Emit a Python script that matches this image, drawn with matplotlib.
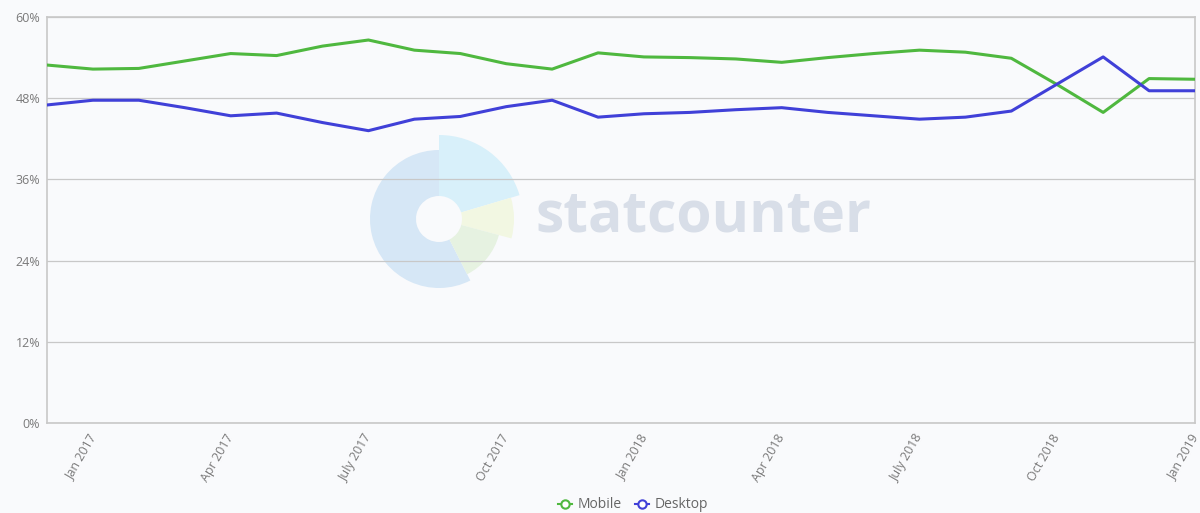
import matplotlib
matplotlib.use("Agg")
import matplotlib.pyplot as plt
from matplotlib.patches import Wedge
from matplotlib.lines import Line2D

months = ["Dec 2016", "Jan 2017", "Feb 2017", "Mar 2017", "Apr 2017", "May 2017", "Jun 2017",
          "Jul 2017", "Aug 2017", "Sep 2017", "Oct 2017", "Nov 2017", "Dec 2017",
          "Jan 2018", "Feb 2018", "Mar 2018", "Apr 2018", "May 2018", "Jun 2018",
          "Jul 2018", "Aug 2018", "Sep 2018", "Oct 2018", "Nov 2018", "Dec 2018", "Jan 2019"]
mobile = [52.9, 52.3, 52.4, 53.5, 54.6, 54.3, 55.7, 56.6, 55.1, 54.6, 53.1, 52.3, 54.7,
          54.1, 54.0, 53.8, 53.3, 54.0, 54.6, 55.1, 54.8, 53.9, 50.0, 45.9, 50.9, 50.8]
desktop = [47.0, 47.7, 47.7, 46.6, 45.4, 45.8, 44.4, 43.2, 44.9, 45.3, 46.75, 47.7, 45.2,
           45.7, 45.9, 46.3, 46.6, 45.9, 45.4, 44.9, 45.2, 46.1, 50.1, 54.1, 49.1, 49.1]
tick_idx = [1, 4, 7, 10, 13, 16, 19, 22, 25]
tick_labels = ["Jan 2017", "Apr 2017", "July 2017", "Oct 2017", "Jan 2018",
               "Apr 2018", "July 2018", "Oct 2018", "Jan 2019"]
yticks = [0, 12, 24, 36, 48, 60]

BG = "#f9fafc"
GREEN = "#4fb83f"
BLUE = "#4040d8"
TXT = "#7a7a7a"

plt.rcParams['font.family'] = ['Open Sans', 'DejaVu Sans']

W, H = 1200, 513
fig = plt.figure(figsize=(W / 100, H / 100), dpi=100, facecolor=BG)

# watermark layer (pixel coordinates, y upward)
wm = fig.add_axes([0, 0, 1, 1], zorder=0)
wm.set_xlim(0, W)
wm.set_ylim(0, H)
wm.axis("off")
cx, cy = 439, H - 219
wm.add_patch(Wedge((cx, cy), 69, 90, 297, width=46, facecolor="#d6e7f6", edgecolor="none"))
wm.add_patch(Wedge((cx, cy), 84, 16.5, 90, width=61, facecolor="#d8f0fa", edgecolor="none"))
wm.add_patch(Wedge((cx, cy), 75, -15, 16.5, width=52, facecolor="#f2f7e2", edgecolor="none"))
wm.add_patch(Wedge((cx, cy), 62, -63, -15, width=39, facecolor="#e6f2e1", edgecolor="none"))
wm.text(535, H - 217, "statcounter", fontsize=41, fontweight="bold", color="#d8dee8",
        ha="left", va="center")

ax = fig.add_axes([47 / W, 1 - 423 / H, (1195 - 47) / W, (423 - 17) / H], zorder=1)
ax.set_facecolor("none")
n = len(months)
x = list(range(n))
ax.plot(x, mobile, color=GREEN, lw=2.2, solid_joinstyle="round", zorder=3)
ax.plot(x, desktop, color=BLUE, lw=2.2, solid_joinstyle="round", zorder=3)

ax.set_xlim(0, n - 1)
ax.set_ylim(0, 60)
ax.set_yticks(yticks)
ax.set_yticklabels([f"{v}%" for v in yticks], color=TXT, fontsize=9)
ax.set_xticks(tick_idx)
ax.set_xticklabels(tick_labels, rotation=60, ha="right", va="center",
                   rotation_mode="anchor", color=TXT, fontsize=9)
ax.tick_params(axis="both", length=0)
ax.tick_params(axis="x", pad=9)
ax.tick_params(axis="y", pad=5)
ax.grid(axis="y", color="#c8c8c8", lw=0.9)
ax.set_axisbelow(True)
for s in ax.spines.values():
    s.set_color("#c8c8c8")
    s.set_linewidth(1.2)

handles = [Line2D([0], [0], color=GREEN, lw=1.5, marker="o", markersize=6,
                  markerfacecolor="white", markeredgecolor=GREEN, markeredgewidth=1.5),
           Line2D([0], [0], color=BLUE, lw=1.5, marker="o", markersize=6,
                  markerfacecolor="white", markeredgecolor=BLUE, markeredgewidth=1.5)]
fig.legend(handles, ["Mobile", "Desktop"], loc="center", bbox_to_anchor=(633 / W, 1 - 505 / H),
           ncol=2, frameon=False, fontsize=10, handlelength=1.0, handletextpad=0.4,
           columnspacing=1.0, labelcolor="#666666")

fig.savefig("out.png", dpi=100, facecolor=BG)
